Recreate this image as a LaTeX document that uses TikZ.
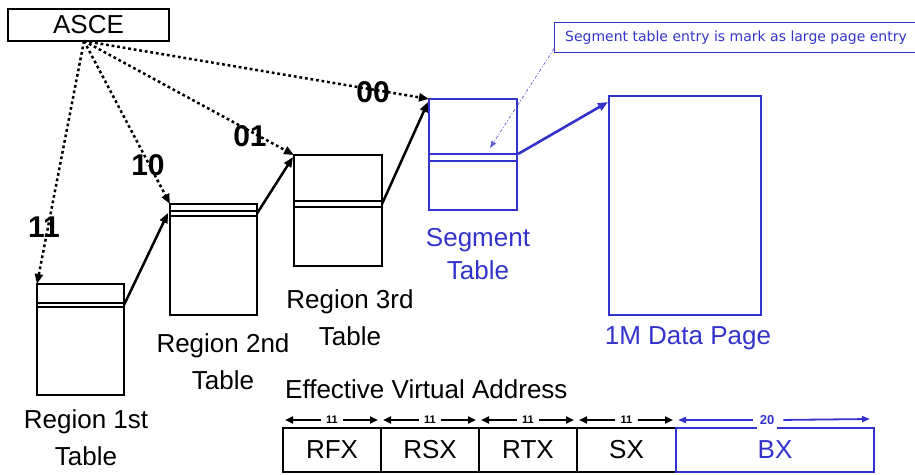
\documentclass[tikz,border=0pt]{standalone}
\usepackage{fontspec}
\setmainfont{Liberation Sans}
\newfontfamily\notefont{DejaVu Sans}
\usetikzlibrary{arrows.meta}
\definecolor{segblue}{RGB}{51,51,204}

\begin{document}
\begin{tikzpicture}[x=1pt,y=-1pt,
  tbl/.style={draw,line width=2.5pt,anchor=north west,inner sep=0pt,outer sep=0pt},
  bluetbl/.style={tbl,draw=segblue,line width=2.6pt},
  lbl/.style={font=\fontsize{26}{37}\selectfont,align=center,inner sep=0pt},
  bitsel/.style={font=\fontsize{30}{30}\selectfont\bfseries,inner sep=0pt},
  ptr/.style={line width=2.5pt,-{Triangle[length=10pt,width=8pt]}},
  dptr/.style={line width=2.5pt,dash pattern=on 2.8pt off 2.8pt,-{Triangle[length=10pt,width=8pt]}},
  field/.style={draw,line width=2.5pt,anchor=north west,inner sep=0pt,outer sep=0pt,
    minimum height=44pt,font=\fontsize{26}{26}\selectfont},
  bitlbl/.style={font=\fontsize{11}{11}\selectfont\bfseries,inner xsep=5pt,inner ysep=1pt},
  bitarr/.style={line width=2.6pt,-{Triangle[length=8pt,width=7pt]}},
]
\useasboundingbox (0,0) rectangle (915,474);

% address space control element
\node[draw,line width=2.5pt,minimum width=161pt,minimum height=32pt,inner sep=0pt,
      font=\fontsize{26}{26}\selectfont] (asce) at (88.5,25) {ASCE};
\coordinate (asce-o) at (84,41);

% translation tables
\node[tbl,minimum width=87pt,minimum height=111pt] (r1) at (37,284) {};
\node[tbl,minimum width=87pt,minimum height=111pt] (r2) at (170,204) {};
\node[tbl,minimum width=88pt,minimum height=111pt] (r3) at (294,155) {};
\node[bluetbl,minimum width=88pt,minimum height=111pt] (seg) at (429,99) {};
\node[bluetbl,minimum width=152pt,minimum height=219pt] (page) at (609,96) {};

% selected entries (double lines)
\foreach \t/\a/\b in {r1/19/23, r2/7/12, r3/46/52}{
  \draw[line width=2.5pt] ([yshift=-\a pt]\t.north west) -- ([yshift=-\a pt]\t.north east);
  \draw[line width=2.5pt] ([yshift=-\b pt]\t.north west) -- ([yshift=-\b pt]\t.north east);
}
\draw[line width=2.6pt,segblue] ([yshift=-55pt]seg.north west) -- ([yshift=-55pt]seg.north east);
\draw[line width=2.6pt,segblue] ([yshift=-62pt]seg.north west) -- ([yshift=-62pt]seg.north east);

% table labels
\node[lbl] (r1-l) at (86,438) {Region 1st\\Table};
\node[lbl] (r2-l) at (223,362) {Region 2nd\\Table};
\node[lbl] (r3-l) at (350,318) {Region 3rd\\Table};
\node[lbl,text=segblue,font=\fontsize{26}{33}\selectfont] (seg-l) at (478,254) {Segment\\Table};
\node[lbl,text=segblue] (page-l) at (688,338) {1M Data Page};

% designation-type pointers from the ASCE
\draw[dptr] (asce-o) -- (r1.north west);
\draw[dptr] (asce-o) -- (r2.north west);
\draw[dptr] (asce-o) -- (r3.north west);
\draw[dptr] (asce-o) -- (seg.north west);
\node[bitsel] (b11) at (44,227) {11};
\node[bitsel] (b10) at (148,165) {10};
\node[bitsel] (b01) at (250,136) {01};
\node[bitsel] (b00) at (373,92) {00};

% table-to-table pointers
\draw[ptr] ([yshift=-21pt]r1.north east) -- ([xshift=-2pt,yshift=-9pt]r2.north west);
\draw[ptr] ([yshift=-9.5pt]r2.north east) -- ([xshift=-1pt,yshift=-2pt]r3.north west);
\draw[ptr] ([yshift=-49pt]r3.north east) -- ([xshift=-1pt,yshift=-3pt]seg.north west);
\draw[ptr,segblue,line width=2.6pt] ([xshift=1pt,yshift=-55pt]seg.north east) -- ([xshift=-1pt,yshift=-6pt]page.north west);

% note on the large page entry
\node[draw=segblue,line width=0.8pt,anchor=north west,minimum width=370pt,minimum height=30pt,
      inner sep=0pt] (note) at (554,22) {};
\node[text=segblue,font=\notefont\fontsize{14}{14}\selectfont,anchor=west,inner sep=0pt]
  (note-t) at (565,37.5) {Segment table entry is mark as large page entry};
\draw[segblue!80,line width=0.7pt,dash pattern=on 3pt off 2pt on 1pt off 2pt,
      -{Triangle[length=7pt,width=5pt]}] ([yshift=4pt]note.south west) -- (490,148);

% effective virtual address
\node[font=\fontsize{26}{26}\selectfont,anchor=base west,inner sep=0pt] (eva) at (285,398) {Effective Virtual Address};
\node[field,minimum width=98pt] (rfx) at (283,428) {RFX};
\node[field,minimum width=98pt] (rsx) at (381,428) {RSX};
\node[field,minimum width=98pt] (rtx) at (479,428) {RTX};
\node[field,minimum width=99pt] (sx) at (577,428) {SX};
\node[field,minimum width=198pt,draw=segblue,text=segblue] (bx) at (676,428) {BX};

\foreach \f in {rfx,rsx,rtx,sx}{
  \node[bitlbl] (\f-n) at ([yshift=8pt]\f.north) {11};
  \draw[bitarr] (\f-n.west) -- ([xshift=2pt,yshift=8pt]\f.north west);
  \draw[bitarr] (\f-n.east) -- ([xshift=-3pt,yshift=8pt]\f.north east);
}
\node[font=\fontsize{13}{13}\selectfont\bfseries,text=segblue,fill=white,inner xsep=3pt,inner ysep=5pt]
  (bx-n) at (767,420) {20};
\draw[segblue,line width=1.8pt,-{Triangle[length=8pt,width=6pt]},shorten <=4pt] (bx-n.west) -- (678,420);
\draw[segblue,line width=1.8pt,-{Triangle[length=8pt,width=6pt]},shorten <=6pt] (bx-n.east) -- (870,419);
\end{tikzpicture}
\end{document}
